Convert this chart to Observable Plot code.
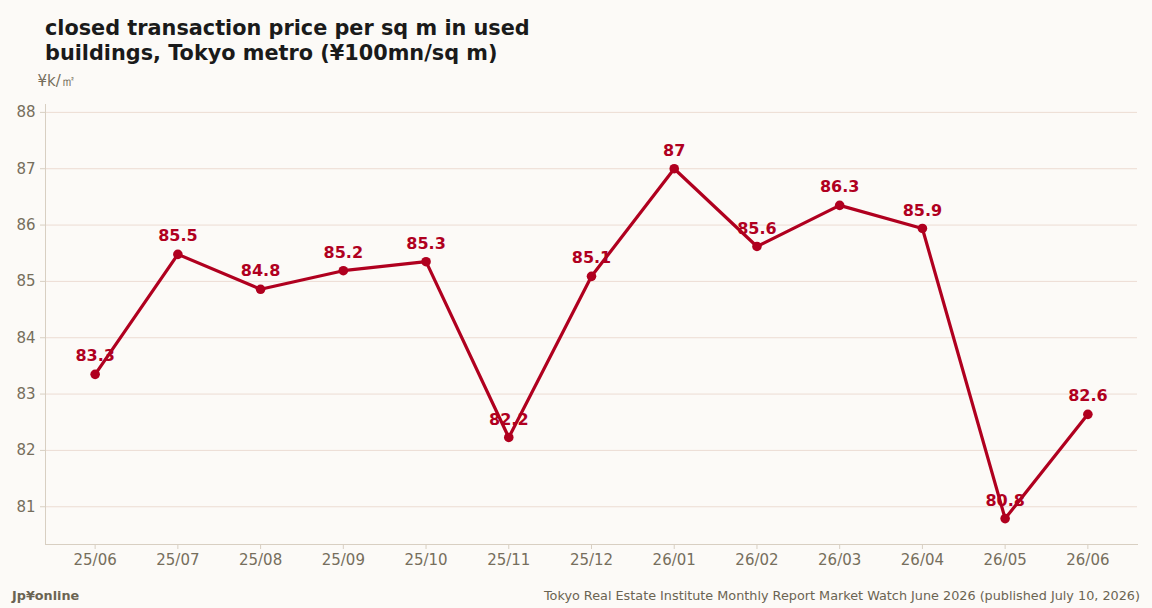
<!DOCTYPE html>
<html>
<head>
<meta charset="utf-8">
<script src="https://cdn.jsdelivr.net/npm/d3@7"></script>
<script src="https://cdn.jsdelivr.net/npm/@observablehq/plot@0.6"></script>
<style>
  html, body { margin: 0; padding: 0; background: #fcfaf7; }
  body { width: 1152px; height: 608px; position: relative; overflow: hidden; font-family: "DejaVu Sans", sans-serif; }
  #title { position: absolute; left: 45px; top: 16px; font-weight: bold; font-size: 20.8px; line-height: 25px; color: #1a1a1a; }
  #chart { position: absolute; left: 0; top: 70px; }
  #brand { position: absolute; left: 12px; top: 588px; font-size: 12.8px; font-weight: bold; color: #6b6452; }
  #source { position: absolute; right: 12px; top: 588px; font-size: 12.8px; color: #6b6452; }
</style>
</head>
<body>
<div id="title">closed transaction price per sq m in used<br>buildings, Tokyo metro (¥100mn/sq m)</div>
<div id="chart"></div>
<div id="brand">Jp¥online</div>
<div id="source">Tokyo Real Estate Institute Monthly Report Market Watch June 2026 (published July 10, 2026)</div>
<script>
const months = ["25/06","25/07","25/08","25/09","25/10","25/11","25/12","26/01","26/02","26/03","26/04","26/05","26/06"];
const prices = [83.35, 85.48, 84.86, 85.19, 85.35, 82.23, 85.09, 87.0, 85.62, 86.35, 85.94, 80.79, 82.64];
const priceLabels = ["83.3","85.5","84.8","85.2","85.3","82.2","85.1","87","85.6","86.3","85.9","80.8","82.6"];
const yTicks = [81, 82, 83, 84, 85, 86, 87, 88];
const unitLabel = "¥k/㎡";

const data = months.map((m, i) => ({month: m, price: prices[i], label: priceLabels[i]}));
const red = "#b0001f";
const ink = "#766e5c";
const axisColor = "#d8cfc2";

const chart = Plot.plot({
  width: 1152,
  height: 505,
  marginLeft: 45,
  marginRight: 15,
  marginTop: 34,
  marginBottom: 31,
  style: {background: "transparent", fontFamily: "DejaVu Sans, sans-serif", fontSize: "15px", color: ink},
  x: {type: "point", domain: months, padding: 0.6, round: false, label: null},
  y: {domain: [80.33, 88.14], label: null},
  marks: [
    Plot.gridY(yTicks, {stroke: "#ecdcd3", strokeOpacity: 1}),
    Plot.axisX({stroke: axisColor, tickSize: 5, tickPadding: 5, fill: ink, fontSize: 15}),
    Plot.axisY(yTicks, {stroke: axisColor, tickSize: 5, tickPadding: 5, fill: ink, fontSize: 15, tickFormat: d => String(d)}),
    Plot.frame({anchor: "left", stroke: axisColor}),
    Plot.frame({anchor: "bottom", stroke: axisColor}),
    Plot.text([unitLabel], {frameAnchor: "top-left", dx: -8, dy: -29, textAnchor: "start", fill: ink, fontSize: 15}),
    Plot.text(data, {x: "month", y: "price", text: "label", dy: -18, fill: red, fontWeight: "bold", fontSize: 16}),
    Plot.line(data, {x: "month", y: "price", stroke: red, strokeWidth: 3.2}),
    Plot.dot(data, {x: "month", y: "price", fill: red, r: 4.8})
  ]
});
document.getElementById("chart").appendChild(chart);
</script>
</body>
</html>
